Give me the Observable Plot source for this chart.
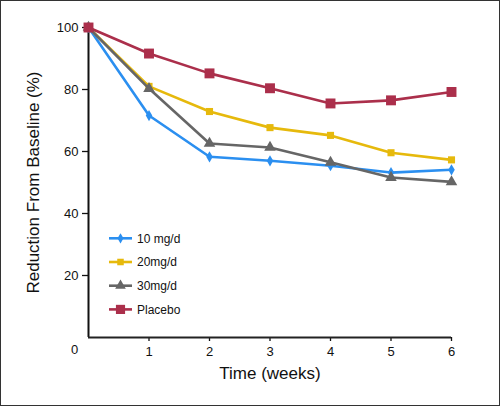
<!DOCTYPE html>
<html><head><meta charset="utf-8">
<script src="https://cdn.jsdelivr.net/npm/d3@7"></script>
<script src="https://cdn.jsdelivr.net/npm/@observablehq/plot@0.6"></script>
<style>
body{margin:0;background:#fff;}
#wrap{width:500px;height:406px;box-sizing:border-box;border:1px solid #333;overflow:hidden;background:#fff;font-family:"Liberation Sans",Arial,sans-serif;}
</style></head><body><div id="wrap"></div>
<script>
const weeks = [0, 1, 2, 3, 4, 5, 6];
const seriesNames = ["10 mg/d", "20mg/d", "30mg/d", "Placebo"];
const dose10 = [100, 71.6, 58.3, 57.0, 55.4, 53.2, 54.1];
const dose20 = [100, 81.0, 72.9, 67.7, 65.2, 59.6, 57.3];
const dose30 = [100, 80.3, 62.6, 61.3, 56.5, 51.6, 50.2];
const placebo = [100, 91.6, 85.2, 80.4, 75.5, 76.5, 79.2];
const yTicks = [20, 40, 60, 80, 100];
const xTicks = [1, 2, 3, 4, 5, 6];
const xLabel = "Time (weeks)";
const yLabel = "Reduction From Baseline (%)";

const colors = ["#2b8ff0", "#e6b90c", "#666666", "#ab2f4b"];
const symbols = ["diamond", "square", "triangle", "square"];
const radii = [3.4, 4, 4.3, 5.6];
const values = [dose10, dose20, dose30, placebo];

const rows = values.flatMap((vals, i) => vals.map((v, j) => ({series: seriesNames[i], week: weeks[j], value: v})));

const seriesMarks = seriesNames.flatMap((name, i) => {
  const d = rows.filter(r => r.series === name);
  return [
    Plot.line(d, {x: "week", y: "value", stroke: colors[i], strokeWidth: 2.6}),
    Plot.dot(d, {x: "week", y: "value", symbol: symbols[i], r: radii[i], fill: colors[i], stroke: "none"})
  ];
});

const plot = Plot.plot({
  width: 498,
  height: 404,
  marginLeft: 87,
  marginRight: 48,
  marginTop: 26,
  marginBottom: 68,
  style: {fontFamily: '"Liberation Sans", Arial, sans-serif', color: "#111", background: "#fff"},
  x: {domain: [0, 6], axis: null},
  y: {domain: [0, 100], axis: null},
  symbol: {type: "identity"},
  marks: [
    Plot.axisY(yTicks, {tickSize: 6, tickPadding: 4, fontSize: 13, label: null, strokeWidth: 1.3}),
    Plot.axisX(xTicks, {tickSize: 4, tickPadding: 5, fontSize: 13, label: null, strokeWidth: 1.3}),
    Plot.text(["0"], {frameAnchor: "bottom-left", textAnchor: "middle", dx: -14, dy: 16, fontSize: 13, fill: "#111"}),
    Plot.ruleX([0], {y1: 0, y2: 100, stroke: "#111", strokeWidth: 2}),
    Plot.ruleY([0], {x1: 0, x2: 6, stroke: "#222", strokeWidth: 2}),
    Plot.text([yLabel], {frameAnchor: "left", textAnchor: "middle", dx: -55, rotate: -90, fontSize: 17, fill: "#111"}),
    Plot.text([xLabel], {frameAnchor: "bottom", textAnchor: "middle", dy: 41, fontSize: 17, fill: "#111"}),
    ...seriesMarks
  ]
});
document.getElementById("wrap").appendChild(plot);

// legend inside the plot area
const svg = d3.select(plot);
const lg = svg.append("g").attr("font-size", 12).attr("fill", "#111").attr("text-anchor", "start");
const symMap = {diamond: d3.symbolDiamond, square: d3.symbolSquare, triangle: d3.symbolTriangle};
seriesNames.forEach((name, i) => {
  const y = 237.3 + i * 23.7;
  const g = lg.append("g").attr("transform", `translate(0,${y})`);
  g.append("line").attr("x1", 108).attr("x2", 131).attr("y1", 0).attr("y2", 0)
    .attr("stroke", colors[i]).attr("stroke-width", 2.6);
  g.append("path").attr("transform", "translate(119.5,0)")
    .attr("d", d3.symbol(symMap[symbols[i]], Math.PI * radii[i] * radii[i] * 0.85)())
    .attr("fill", colors[i]);
  g.append("text").attr("x", 136).attr("y", 0).attr("dy", "0.35em").attr("text-anchor", "start").text(name);
});
</script></body></html>
